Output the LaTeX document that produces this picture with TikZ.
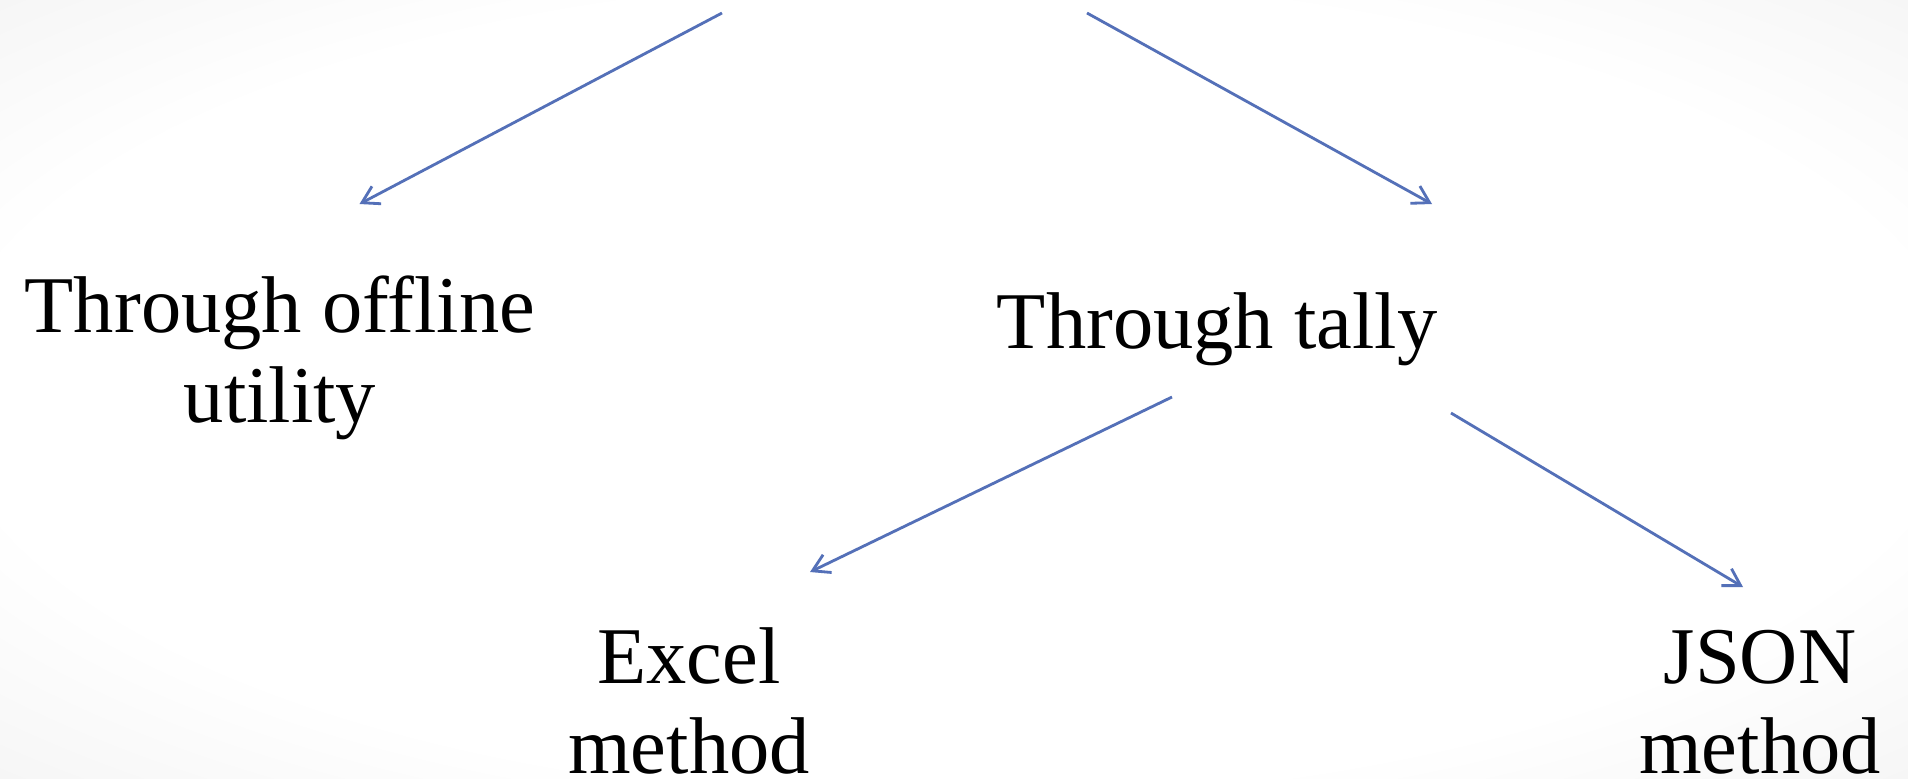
\documentclass[tikz,border=0pt]{standalone}
\usepackage{fontspec}
\setmainfont{Liberation Serif}
\usetikzlibrary{arrows.meta}
\definecolor{bleu}{RGB}{84,112,184}
\pgfdeclareradialshading{fond}{\pgfpoint{0bp}{0bp}}{color(0bp)=(white); color(26bp)=(white); color(50bp)=(black!9); color(56bp)=(black!12)}

\begin{document}
\begin{tikzpicture}[prec/.style={<-, draw=bleu, line width=0.8pt, >={Straight Barb[length=4.7pt, width=5.6pt]}}]
        \tikzset{choix/.style={align=center, anchor=base, inner sep=0pt, font=\fontsize{22.9}{25.6}\selectfont}};
        \shade[shading=fond] (0, 0) rectangle (19.08, -7.78);

        % base = last line
        \node[choix] (1) at (2.80, -4.22) {Through offline\\utility};
        \node[choix] (2) at (12.17, -3.48) {Through tally};
        \node[choix] (3) at (6.89, -7.73) {Excel\\method};
        \node[choix] (4) at (17.60, -7.73) {JSON\\method};

        \coordinate (h1) at (7.22, -0.13);
        \coordinate (h2) at (10.87, -0.13);
        \coordinate (1h) at (3.595, -2.04)
            edge[prec] (h1);
        \coordinate (2h) at (14.32, -2.04)
            edge[prec] (h2);

        \coordinate (2b) at (11.72, -3.97);
        \coordinate (2c) at (14.51, -4.13);
        \coordinate (3h) at (8.10, -5.72)
            edge[prec] (2b);
        \coordinate (4h) at (17.43, -5.87)
            edge[prec] (2c);
    \end{tikzpicture}
\end{document}
